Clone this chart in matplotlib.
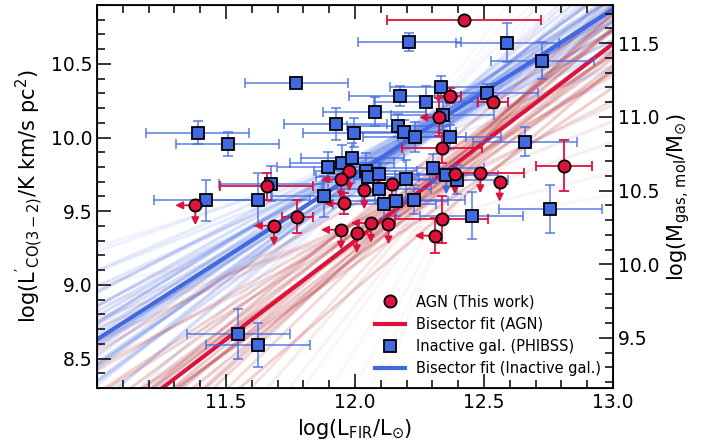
import matplotlib.pyplot as plt
from matplotlib.lines import Line2D
from matplotlib.ticker import MultipleLocator
import numpy as np

plt.rcParams['mathtext.default'] = 'regular'

# AGN (this work): log L_FIR, log L'CO(3-2), errors, limit flags
agn_lfir = [12.423, 12.367, 12.536, 12.327, 12.337, 12.810, 12.486, 12.387,
            12.561, 12.143, 12.036, 11.978, 11.946, 11.958, 11.658, 11.381,
            11.686, 11.777, 11.946, 12.007, 12.062, 12.130, 12.337, 12.309]
agn_lco = [10.797, 10.284, 10.240, 10.137, 9.930, 9.810, 9.757, 9.750,
           9.700, 9.687, 9.647, 9.770, 9.716, 9.553, 9.669, 9.540,
           9.401, 9.464, 9.374, 9.349, 9.420, 9.410, 9.445, 9.334]
agn_xerr = [0.30, 0.045, 0.058, 0.0, 0.155, 0.11, 0.17, 0.0,
            0.0, 0.0, 0.0, 0.0, 0.0, 0.0, 0.18, 0.0,
            0.0, 0.06, 0.0, 0.0, 0.0, 0.0, 0.18, 0.0]
agn_yerr = [0.0, 0.05, 0.04, 0.13, 0.10, 0.175, 0.0, 0.0,
            0.0, 0.0, 0.0, 0.0, 0.0, 0.07, 0.09, 0.0,
            0.0, 0.11, 0.0, 0.0, 0.0, 0.0, 0.16, 0.12]
agn_xuplim = [0, 0, 0, 1, 0, 0, 0, 0, 0, 1, 0, 0, 1, 1, 0, 1,
              1, 0, 1, 0, 1, 0, 0, 1]
agn_yuplim = [0, 0, 0, 0, 0, 0, 1, 1, 1, 1, 1, 1, 1, 0, 0, 1,
              1, 0, 1, 1, 1, 1, 0, 0]

# Inactive galaxies (PHIBSS)
phb_lfir = [11.773, 12.210, 12.590, 12.726, 12.335, 12.176, 12.274, 12.511,
            12.077, 11.925, 11.997, 12.168, 12.190, 12.231, 12.367, 12.340,
            12.659, 11.390, 11.506, 11.896, 11.950, 11.990, 12.042, 12.049,
            12.092, 12.094, 12.196, 12.302, 12.354, 12.395, 11.879, 12.113,
            12.161, 12.227, 12.452, 12.758, 11.625, 11.673, 11.421, 11.547,
            11.624]
phb_lco = [10.369, 10.647, 10.644, 10.520, 10.340, 10.282, 10.240, 10.300,
           10.176, 10.090, 10.033, 10.081, 10.040, 10.002, 10.002, 10.150,
           9.973, 10.033, 9.957, 9.800, 9.830, 9.860, 9.772, 9.730,
           9.754, 9.653, 9.720, 9.790, 9.749, 9.714, 9.600, 9.552,
           9.568, 9.579, 9.468, 9.515, 9.578, 9.687, 9.574, 8.669,
           8.590]
phb_xerr = [0.2] * 41
phb_yerr = [0.0, 0.06, 0.13, 0.125, 0.08, 0.07, 0.11, 0.06,
            0.10, 0.11, 0.10, 0.08, 0.08, 0.10, 0.08, 0.10,
            0.10, 0.08, 0.08, 0.10, 0.12, 0.10, 0.12, 0.10,
            0.10, 0.10, 0.13, 0.10, 0.0, 0.10, 0.14, 0.10,
            0.10, 0.10, 0.16, 0.16, 0.18, 0.12, 0.14, 0.17,
            0.15]
phb_yuplim = [0] * 28 + [1] + [0] * 12

# bisector fits (slope, intercept)
agn_fit = (1.337, -6.745)
phb_fit = (1.12, -3.69)

# bootstrap realisations: slope and value at the pivot
phb_pivot = 12.2
phb_boot_slope = [1.12, 1.05, 1.18, 1.00, 1.25, 0.95, 1.30, 1.08, 1.15, 0.90,
                  1.35, 1.02, 1.22, 0.85, 1.40, 1.10, 1.20, 0.80, 1.50, 0.75,
                  1.60, 0.70, 1.75, 0.62, 1.90, 2.10, 2.30, 0.55, 1.28, 0.98,
                  1.14, 1.06, 1.24, 0.92, 1.45, 1.16]
phb_boot_y = [9.97, 9.95, 10.00, 9.93, 10.02, 9.96, 9.99, 9.91, 10.04, 9.94,
              9.97, 10.01, 9.92, 9.98, 10.00, 10.06, 9.90, 9.95, 9.98, 10.00,
              9.96, 9.93, 10.00, 9.97, 9.99, 9.98, 10.00, 9.92, 9.88, 10.03,
              9.94, 10.02, 9.96, 10.05, 9.93, 9.99]
agn_pivot = 12.3
agn_boot_slope = [1.34, 1.25, 1.42, 1.18, 1.50, 1.10, 1.60, 1.30, 1.38, 1.00,
                  1.70, 0.90, 1.85, 0.80, 2.00, 0.70, 2.20, 0.60, 2.40, 0.45,
                  2.80, 0.30, 3.30, 3.80, 4.40, 1.20, 1.50, 1.30, 1.00, 1.45,
                  1.36, 1.28, 1.55, 1.15, 1.65, 1.40]
agn_boot_y = [9.70, 9.66, 9.73, 9.62, 9.75, 9.68, 9.72, 9.58, 9.78, 9.72,
              9.65, 9.62, 9.60, 9.66, 9.58, 9.62, 9.52, 9.55, 9.50, 9.45,
              9.40, 9.40, 9.30, 9.22, 9.18, 9.50, 9.42, 9.82, 9.85, 9.88,
              9.64, 9.74, 9.66, 9.76, 9.70, 9.60]

mgas_offset = 0.86

RED = '#dc143c'
BLUE = '#4169e1'

fig = plt.figure(figsize=(7.16, 4.46), dpi=100)
ax = fig.add_axes([0.1355, 0.130, 0.7205, 0.859])

xs = np.array([10.8, 13.2])

# bootstrap fans: lines far from the best slope drawn fainter
for s, y0 in zip(phb_boot_slope, phb_boot_y):
    a = 0.03 + 0.2 * np.exp(-((s - phb_fit[0]) / 0.45) ** 2)
    ax.plot(xs, y0 + s * (xs - phb_pivot), color=BLUE, lw=2.2, alpha=a, zorder=1)
for s, y0 in zip(agn_boot_slope, agn_boot_y):
    a = 0.03 + 0.2 * np.exp(-((s - agn_fit[0]) / 0.6) ** 2)
    ax.plot(xs, y0 + s * (xs - agn_pivot), color='#b3262a', lw=2.2, alpha=a, zorder=1.1)

# best fits
ax.plot(xs, agn_fit[0] * xs + agn_fit[1], color=RED, lw=3, zorder=2)
ax.plot(xs, phb_fit[0] * xs + phb_fit[1], color=BLUE, lw=3, zorder=2)

# PHIBSS points
ax.errorbar(phb_lfir, phb_lco, xerr=phb_xerr, yerr=phb_yerr, fmt='none',
            ecolor=BLUE, elinewidth=1.2, capsize=3.5, capthick=1.2, alpha=0.8, zorder=3)
ax.plot(phb_lfir, phb_lco, 's', ms=8.5, mfc=BLUE, mec='black', mew=1.3, zorder=5)

# AGN points
ax.errorbar(agn_lfir, agn_lco, xerr=agn_xerr, yerr=agn_yerr, fmt='none',
            ecolor=RED, elinewidth=1.3, capsize=3.5, capthick=1.3, zorder=3)

arrow = dict(arrowstyle='-|>', lw=1.3, mutation_scale=11, shrinkA=0, shrinkB=0)
for x, y, fx, fy in zip(agn_lfir, agn_lco, agn_xuplim, agn_yuplim):
    if fx:
        ax.annotate('', xy=(x - 0.078, y), xytext=(x, y),
                    arrowprops=dict(arrow, color=RED), zorder=3)
    if fy:
        ax.annotate('', xy=(x, y - 0.135), xytext=(x, y),
                    arrowprops=dict(arrow, color=RED), zorder=3)
for x, y, fy in zip(phb_lfir, phb_lco, phb_yuplim):
    if fy:
        ax.annotate('', xy=(x, y - 0.135), xytext=(x, y),
                    arrowprops=dict(arrow, color=BLUE), zorder=3)

ax.plot(agn_lfir, agn_lco, 'o', ms=8.8, mfc=RED, mec='black', mew=1.3, zorder=6)

ax.set_xlim(11.0, 13.0)
ax.set_ylim(8.3, 10.9)
ax.set_xticks([11.0, 11.5, 12.0, 12.5, 13.0], ['', '11.5', '12.0', '12.5', '13.0'])
ax.xaxis.set_minor_locator(MultipleLocator(0.1))
ax.yaxis.set_major_locator(MultipleLocator(0.5))
ax.yaxis.set_minor_locator(MultipleLocator(0.1))
ax.tick_params(which='both', direction='in', top=True, right=False, labelsize=13.5, width=1.1)
ax.tick_params(which='major', length=10)
ax.tick_params(which='minor', length=5.5)
for sp in ax.spines.values():
    sp.set_linewidth(1.3)

ax.set_xlabel(r"log(L$_{FIR}$/L$_{\odot}$)", fontsize=15)
ax.set_ylabel(r"log($L'_{CO(3-2)}$/K km/s pc$^2$)", fontsize=15)

ax2 = ax.twinx()
ax2.set_ylim(8.3 + mgas_offset, 10.9 + mgas_offset)
ax2.yaxis.set_major_locator(MultipleLocator(0.5))
ax2.yaxis.set_minor_locator(MultipleLocator(0.1))
ax2.tick_params(which='both', direction='in', labelsize=13.5, width=1.1)
ax2.tick_params(which='major', length=10)
ax2.tick_params(which='minor', length=5.5)
ax2.set_ylabel(r"log(M$_{gas,\,mol}$/M$_{\odot}$)", fontsize=15)

handles = [
    Line2D([], [], ls='none', marker='o', ms=8.8, mfc=RED, mec='black', mew=1.3),
    Line2D([], [], color=RED, lw=3),
    Line2D([], [], ls='none', marker='s', ms=8.5, mfc=BLUE, mec='black', mew=1.3),
    Line2D([], [], color=BLUE, lw=3),
]
labels = ['AGN (This work)', 'Bisector fit (AGN)', 'Inactive gal. (PHIBSS)',
          'Bisector fit (Inactive gal.)']
ax.legend(handles, labels, loc='lower right', frameon=False, fontsize=10.5,
          borderaxespad=0.4)

fig.savefig('out.png', dpi=100)
